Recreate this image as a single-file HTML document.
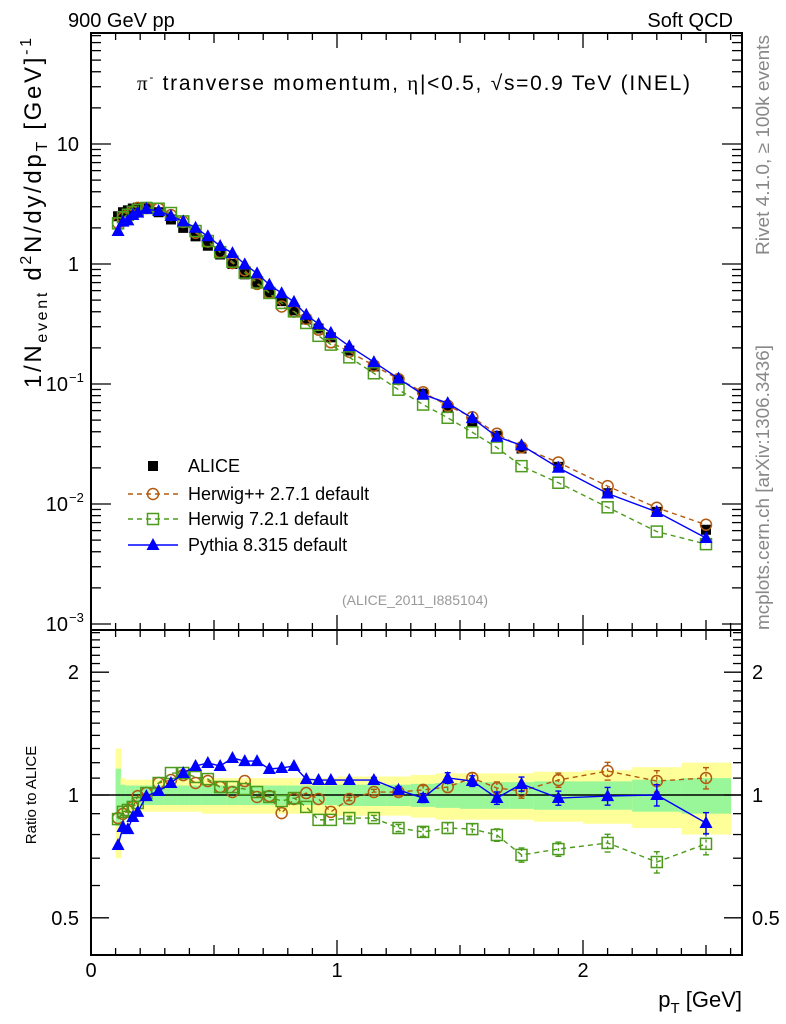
<!DOCTYPE html>
<html><head><meta charset="utf-8"><style>
body{margin:0;background:#fff}
svg{display:block;font-family:"Liberation Sans",sans-serif}
</style></head><body>
<svg id="chart" width="786" height="1024" viewBox="0 0 786 1024" xmlns="http://www.w3.org/2000/svg">
<g id="bands"></g>
<g id="axes"></g>
<g id="series"></g>
<text x="68" y="27" font-size="20">900 GeV pp</text>
<text x="733" y="27" font-size="20" text-anchor="end">Soft QCD</text>
<text x="137" y="90" font-size="21" textLength="553" lengthAdjust="spacing"><tspan font-family="Liberation Serif">π</tspan><tspan font-size="12" dy="-9">-</tspan><tspan dy="9"> tranverse momentum, </tspan><tspan font-family="Liberation Serif">η</tspan>|&lt;0.5, √s=0.9 TeV (INEL)</text>
<text transform="translate(41,388) rotate(-90)" font-size="24" textLength="350" lengthAdjust="spacing">1/N<tspan font-size="16" dy="6">event</tspan><tspan dy="-6"> d</tspan><tspan font-size="16" dy="-10">2</tspan><tspan dy="10">N/dy/dp</tspan><tspan font-size="16" dy="6">T</tspan><tspan dy="-6"> [GeV]</tspan><tspan font-size="16" dy="-10">-1</tspan></text>
<text transform="translate(36,795) rotate(-90)" font-size="15" text-anchor="middle">Ratio to ALICE</text>
<text x="742" y="1007" font-size="22" text-anchor="end">p<tspan font-size="15" dy="6">T</tspan><tspan dy="-6"> [GeV]</tspan></text>
<text transform="translate(769,255) rotate(-90)" font-size="18" fill="#888" textLength="220" lengthAdjust="spacingAndGlyphs">Rivet 4.1.0, ≥ 100k events</text>
<text transform="translate(769,630) rotate(-90)" font-size="18" fill="#888" textLength="285" lengthAdjust="spacingAndGlyphs">mcplots.cern.ch [arXiv:1306.3436]</text>
<text x="415" y="605" font-size="14" fill="#999" text-anchor="middle">(ALICE_2011_I885104)</text>
<g id="legend"></g>
</svg>
<script>
const pt = [0.11,0.13,0.15,0.17,0.19,0.225,0.275,0.325,0.375,0.425,0.475,0.525,0.575,0.625,0.675,0.725,0.775,0.825,0.875,0.925,0.975,1.05,1.15,1.25,1.35,1.45,1.55,1.65,1.75,1.9,2.1,2.3,2.5];
const binEdges = [0.1,0.12,0.14,0.16,0.18,0.2,0.25,0.3,0.35,0.4,0.45,0.5,0.55,0.6,0.65,0.7,0.75,0.8,0.85,0.9,0.95,1.0,1.1,1.2,1.3,1.4,1.5,1.6,1.7,1.8,2.0,2.2,2.4,2.6];
const alice = [2.5,2.7,2.8,2.9,2.95,2.9,2.7,2.35,2.0,1.7,1.42,1.2,1.0,0.82,0.69,0.58,0.49,0.41,0.345,0.29,0.245,0.19,0.14,0.108,0.083,0.063,0.048,0.037,0.029,0.0204,0.0123,0.0086,0.0061];
const ratioHerwigpp = [0.878,0.899,0.914,0.935,0.994,1.011,1.070,1.088,1.119,1.070,1.082,1.046,1.017,1.082,0.989,0.994,0.903,0.978,1.011,0.978,0.909,0.978,1.017,1.017,1.029,1.046,1.101,1.040,1.023,1.088,1.145,1.082,1.101];
const ratioHerwig7 = [0.873,0.909,0.919,0.935,0.956,1.011,1.070,1.132,1.132,1.107,1.094,1.046,1.046,1.034,1.017,0.989,0.967,0.983,0.935,0.869,0.869,0.878,0.878,0.830,0.812,0.830,0.825,0.798,0.713,0.737,0.763,0.685,0.759];
const ratioPythia = [0.754,0.835,0.825,0.883,0.909,0.994,1.023,1.070,1.132,1.178,1.198,1.178,1.232,1.211,1.211,1.158,1.165,1.178,1.094,1.088,1.088,1.088,1.088,1.029,0.983,1.101,1.082,0.983,1.064,0.983,0.994,1.0,0.854];
const bandYellow = [0.30,0.10,0.09,0.09,0.09,0.09,0.09,0.09,0.09,0.09,0.10,0.10,0.10,0.10,0.10,0.10,0.10,0.10,0.10,0.10,0.10,0.11,0.11,0.11,0.12,0.13,0.13,0.13,0.13,0.14,0.15,0.17,0.20];
const bandGreen = [0.16,0.06,0.055,0.055,0.055,0.055,0.055,0.055,0.055,0.055,0.055,0.055,0.055,0.055,0.055,0.055,0.055,0.055,0.055,0.055,0.055,0.06,0.06,0.06,0.065,0.07,0.075,0.075,0.075,0.08,0.08,0.09,0.10];
const mcErr = [0,0,0,0,0,0,0,0,0,0,0,0,0,0,0,0,0,0,0,0,0,0.01,0.015,0.02,0.025,0.03,0.03,0.035,0.04,0.04,0.05,0.06,0.06];
const xTickLabels = ["0","1","2"];
const ratioTickLabels = ["0.5","1","2"];

const NS="http://www.w3.org/2000/svg";
const X0=91, XR=742, SX=246, MT=33, MB=630, RB=955;
const xs=v=>X0+SX*v;
const ym=v=>264-120*Math.log10(v);
const yr=v=>795-408*Math.log10(v);
function mk(parent,tag,attrs){const e=document.createElementNS(NS,tag);for(const k in attrs)e.setAttribute(k,attrs[k]);parent.appendChild(e);return e;}
const bands=document.getElementById('bands'), axes=document.getElementById('axes'), series=document.getElementById('series'), legend=document.getElementById('legend');

for(let i=0;i<pt.length;i++){
  const x1=xs(binEdges[i]), x2=xs(binEdges[i+1]);
  const y=mk(bands,'rect',{x:x1,y:yr(1+bandYellow[i]),width:x2-x1+0.5,height:yr(1-bandYellow[i])-yr(1+bandYellow[i]),fill:'#ffff99'});
  
  
  const g=mk(bands,'rect',{x:x1,y:yr(1+bandGreen[i]),width:x2-x1+0.5,height:yr(1-bandGreen[i])-yr(1+bandGreen[i]),fill:'#99f799'});
  
  
}
const ul=mk(axes,'line',{x1:X0,x2:XR,y1:yr(1),y2:yr(1),stroke:'#000','stroke-width':1.5});



const f1=mk(axes,'rect',{x:X0,y:MT,width:XR-X0,height:MB-MT,fill:'none',stroke:'#000','stroke-width':2});


const f2=mk(axes,'rect',{x:X0,y:MB,width:XR-X0,height:RB-MB,fill:'none',stroke:'#000','stroke-width':2});



for(let k=0;k<=26;k++){
  const v=k/10, x=xs(v); if(x>XR) break;
  const len = k%10===0?15:(k%5===0?10:7);
  for(const [yb,dir] of [[MT,1],[MB,-1],[MB,1],[RB,-1]]){
    const t=mk(axes,'line',{x1:x,x2:x,y1:yb,y2:yb+dir*len,stroke:'#000','stroke-width':1.3});
    
    
  }
}
xTickLabels.forEach((s,i)=>{
  const t=mk(axes,'text',{x:xs(+s),y:977,'font-size':20,'text-anchor':'middle'});t.textContent=s;
  
  
});
for(let d=-3;d<=1;d++){
  for(let m=1;m<=9;m++){
    const v=m*Math.pow(10,d), y=ym(v); if(y<MT) continue;
    const len=m===1?20:10;
    for(const [xb,dir] of [[X0,1],[XR,-1]]){
      const t=mk(axes,'line',{x1:xb,x2:xb+dir*len,y1:y,y2:y,stroke:'#000','stroke-width':1.3});
      
      
    }
  }
}
[[10,'10',null],[1,'1',null],[0.1,'10','−1'],[0.01,'10','−2'],[0.001,'10','−3']].forEach(([v,b,e])=>{
  const t=mk(axes,'text',{x:e?68:79,y:ym(v)+7,'font-size':20,'text-anchor':'end'});
  t.textContent=b;
  
  
  if(e){const s=mk(axes,'text',{x:69,y:ym(v)-2,'font-size':13});s.textContent=e;
    
    }
});
for(let k=4;k<=25;k++){
  const v=k/10, y=yr(v); if(y<MB||y>RB) continue;
  const len=(k===5||k===10||k===20)?18:9;
  for(const [xb,dir] of [[X0,1],[XR,-1]]){
    const t=mk(axes,'line',{x1:xb,x2:xb+dir*len,y1:y,y2:y,stroke:'#000','stroke-width':1.3});
    
    
  }
}
ratioTickLabels.forEach(s=>{
  const v=+s;
  const a=mk(axes,'text',{x:79,y:yr(v)+7,'font-size':20,'text-anchor':'end'});a.textContent=s;
  
  
  const b=mk(axes,'text',{x:752,y:yr(v)+7,'font-size':20});b.textContent=s;
  
  
});

function marker(g,type,x,y,color,name){
  let e;
  if(type==='sq') e=mk(g,'rect',{x:x-5,y:y-5,width:10,height:10,fill:'#000'});
  else if(type==='circ') e=mk(g,'circle',{cx:x,cy:y,r:5.5,fill:'none',stroke:color,'stroke-width':1.5});
  else if(type==='osq') e=mk(g,'rect',{x:x-5.5,y:y-5.5,width:11,height:11,fill:'none',stroke:color,'stroke-width':1.5});
  else e=mk(g,'polygon',{points:`${x},${y-7} ${x-6.5},${y+5} ${x+6.5},${y+5}`,fill:color});
  
  
  return e;
}
const mcs=[
  {r:ratioHerwigpp,c:'#b35a10',t:'circ',dash:'5,4',n:'herwigpp'},
  {r:ratioHerwig7,c:'#4c9b1c',t:'osq',dash:'5,4',n:'herwig7'},
  {r:ratioPythia,c:'#0000ff',t:'tri',dash:null,n:'pythia'}
];
alice.forEach((v,i)=>marker(series,'sq',xs(pt[i]),ym(v),'#000','alice-point'));
mcs.forEach(s=>{
  const main=s.r.map((r,i)=>[xs(pt[i]),ym(r*alice[i])]);
  const rat=s.r.map((r,i)=>[xs(pt[i]),yr(r)]);
  for(const pts of [main,rat]){
    const l=mk(series,'polyline',{points:pts.map(p=>p.join(',')).join(' '),fill:'none',stroke:s.c,'stroke-width':1.4});
    if(s.dash) l.setAttribute('stroke-dasharray',s.dash);
    
    
  }
  s.r.forEach((r,i)=>{
    const e=mcErr[i];
    if(e>0){
      const x=xs(pt[i]);
      const b=mk(series,'line',{x1:x,x2:x,y1:yr(r*(1+e)),y2:yr(r*(1-e)),stroke:s.c,'stroke-width':1.4});
      if(s.dash) b.setAttribute('stroke-dasharray','3,3');
      
      
      for(const yy of [yr(r*(1+e)),yr(r*(1-e))]){
        const c=mk(series,'line',{x1:x-3,x2:x+3,y1:yy,y2:yy,stroke:s.c,'stroke-width':1.4});
        
        
      }
    }
  });
  main.forEach(p=>marker(series,s.t,p[0],p[1],s.c,s.n+'-point'));
  rat.forEach(p=>marker(series,s.t,p[0],p[1],s.c,s.n+'-ratio-point'));
});

const leg=[['ALICE','sq','#000',null],['Herwig++ 2.7.1 default','circ','#b35a10','5,4'],['Herwig 7.2.1 default','osq','#4c9b1c','5,4'],['Pythia 8.315 default','tri','#0000ff',null]];
const ly=[466,494,519,545];
leg.forEach((L,i)=>{
  const y=ly[i];
  if(i>0){const l=mk(legend,'line',{x1:128,x2:178,y1:y,y2:y,stroke:L[2],'stroke-width':1.4});
    if(L[3]) l.setAttribute('stroke-dasharray',L[3]);
    
    }
  marker(legend,L[1],153,y,L[2],'legend-marker');
  const t=mk(legend,'text',{x:188,y:y+6,'font-size':18});t.textContent=L[0];
  
  
});
</script>
</body></html>
